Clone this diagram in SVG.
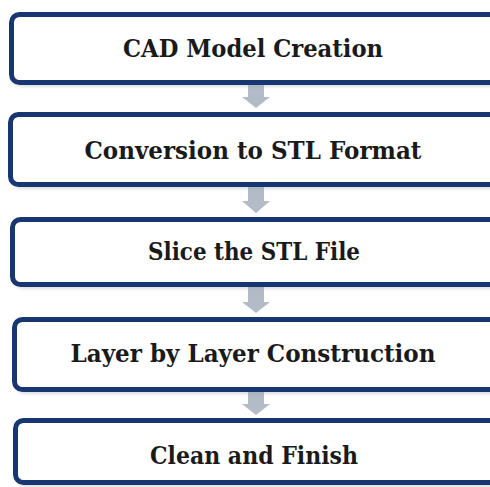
<svg xmlns="http://www.w3.org/2000/svg" width="490" height="487" viewBox="0 0 490 487">
<defs>
<style>
.box{fill:#ffffff;stroke:#183670;stroke-width:5}
.shadow{fill:none;stroke:#9aa0a8;stroke-width:4;opacity:0.35}
.lbl{font-family:"DejaVu Serif","Liberation Serif",serif;font-weight:bold;font-size:25px;fill:#1a1a1a;text-anchor:middle}
.arr{fill:#b3bbc7}
</style>
<filter id="blur" x="-10%" y="-10%" width="120%" height="130%"><feGaussianBlur stdDeviation="1.5"/></filter>
</defs>
<rect width="490" height="487" fill="#ffffff"/>
<g id="connectors">
<path class="arr" d="M248,84 H264 V97 H270 L256,108 L242,97 H248 Z"/>
<path class="arr" d="M248,186 H264 V201 H270 L256,213 L242,201 H248 Z"/>
<path class="arr" d="M248,286 H264 V302 H270 L256,313 L242,302 H248 Z"/>
<path class="arr" d="M248,391 H264 V404 H270 L256,415 L242,404 H248 Z"/>
</g>
<g id="n1">
<rect class="shadow" x="13.5" y="17" width="490" height="68" rx="8" filter="url(#blur)"/>
<rect class="box" x="11.5" y="14.5" width="490" height="68" rx="8"/>
<text class="lbl" x="253" y="57" textLength="260" lengthAdjust="spacingAndGlyphs">CAD Model Creation</text>
</g>
<g id="n2">
<rect class="shadow" x="12.5" y="117" width="490" height="70" rx="8" filter="url(#blur)"/>
<rect class="box" x="10.5" y="114.5" width="490" height="70" rx="8"/>
<text class="lbl" x="253" y="159" textLength="337" lengthAdjust="spacingAndGlyphs">Conversion to STL Format</text>
</g>
<g id="n3">
<rect class="shadow" x="14.5" y="222" width="490" height="65" rx="8" filter="url(#blur)"/>
<rect class="box" x="12.5" y="219.5" width="490" height="65" rx="8"/>
<text class="lbl" x="254" y="260" textLength="212" lengthAdjust="spacingAndGlyphs">Slice the STL File</text>
</g>
<g id="n4">
<rect class="shadow" x="16.5" y="322" width="490" height="70" rx="8" filter="url(#blur)"/>
<rect class="box" x="14.5" y="319.5" width="490" height="70" rx="8"/>
<text class="lbl" x="253" y="362" textLength="365" lengthAdjust="spacingAndGlyphs">Layer by Layer Construction</text>
</g>
<g id="n5">
<rect class="shadow" x="17.5" y="423" width="490" height="62" rx="8" filter="url(#blur)"/>
<rect class="box" x="15.5" y="420.5" width="490" height="62" rx="8"/>
<text class="lbl" x="254" y="464" textLength="208" lengthAdjust="spacingAndGlyphs">Clean and Finish</text>
</g>
</svg>
